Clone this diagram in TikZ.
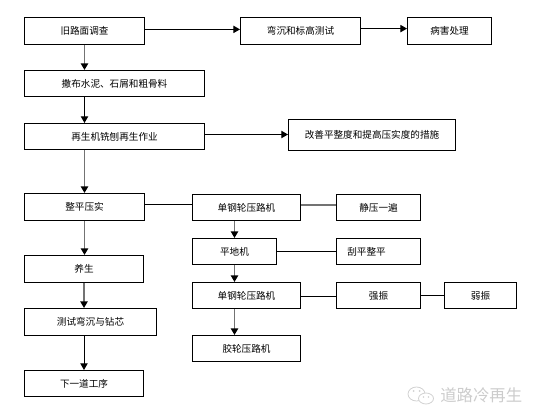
\documentclass[tikz,border=0pt]{standalone}
\usepackage{fontspec}
\setmainfont{Noto Sans CJK SC}
\usetikzlibrary{arrows.meta}
\tikzset{
  x=0.75pt,y=-0.75pt,
  bx/.style={draw=black,line width=0.75pt,inner sep=0pt,font=\fontsize{7.2pt}{8pt}\selectfont},
  arr/.style={draw=black,line width=0.75pt,-{Triangle[length=5pt,width=5.5pt]}},
  garr/.style={draw=black!55,line width=1.1pt,-{Triangle[length=5pt,width=5.5pt,color=black]}},
  ln/.style={draw=black,line width=0.75pt},
  gln/.style={draw=black!55,line width=1.5pt},
  wmk/.style={draw=black!18,line width=0.6pt},
}
\newcommand{\bxn}[6]{\node[bx,minimum width=(#4-#3)*0.75pt,minimum height=(#6-#5)*0.75pt] (#1) at ({(#3+#4)/2},{(#5+#6)/2}) {\raisebox{-2.2pt}{#2}};}
\begin{document}
\begin{tikzpicture}
\useasboundingbox (0,0) rectangle (539,420);
\bxn{A}{旧路面调查}{24.5}{144.5}{17.5}{44.5}
\bxn{B}{弯沉和标高测试}{240.5}{360.5}{17.5}{44.5}
\bxn{C}{病害处理}{407.5}{491.5}{17.5}{44.5}
\bxn{D}{撒布水泥、石屑和粗骨料}{24.5}{204.5}{70.5}{96.5}
\bxn{E}{再生机铣刨再生作业}{24.5}{204.5}{123.5}{149.5}
\bxn{F}{改善平整度和提高压实度的措施}{288.5}{455.5}{119.5}{150.5}
\bxn{G}{整平压实}{24.5}{144.5}{193.5}{220.5}
\bxn{H}{单钢轮压路机}{192.5}{300.5}{194.5}{220.5}
\bxn{I}{静压一遍}{336.5}{420.5}{194.5}{220.5}
\bxn{J}{平地机}{192.5}{276.5}{238.5}{264.5}
\bxn{K}{刮平整平\hspace{18pt}}{336.5}{420.5}{238.5}{264.5}
\bxn{L}{单钢轮压路机}{192.5}{300.5}{282.5}{308.5}
\bxn{M}{强振}{336.5}{420.5}{282.5}{308.5}
\bxn{N}{弱振}{444.5}{516.5}{282.5}{308.5}
\bxn{O}{胶轮压路机}{192.5}{300.5}{335.5}{361.5}
\bxn{P}{养生}{24.5}{143.5}{255.5}{282.5}
\bxn{Q}{测试弯沉与钻芯}{24.5}{156.5}{308.5}{335.5}
\bxn{R}{下一道工序}{24.5}{143.5}{370.5}{396.5}
% vertical left column
\draw[garr] (A.south) -- (A.south |- D.north);
\draw[arr] (A.south |- D.south) -- (A.south |- E.north);
\draw[garr] (A.south |- E.south) -- (A.south |- G.north);
\draw[garr] (G.south) -- (G.south |- P.north);
\draw[garr] (P.south) -- (P.south |- Q.north);
\draw[arr] (P.south |- Q.south) -- (P.south |- R.north);
% vertical right column
\draw[garr] (J.north |- H.south) -- (J.north);
\draw[garr] (J.south) -- (J.south |- L.north);
\draw[garr] (J.south |- L.south) -- (J.south |- O.north);
% horizontal
\draw[arr] ([yshift=1.2pt]A.east) -- ([yshift=1.2pt]B.west);
\draw[arr] ([yshift=1.8pt]B.east) -- ([yshift=1.8pt]C.west);
\draw[arr] ([yshift=1.5pt]E.east) -- ([yshift=1.5pt]E.east -| F.west);
\draw[ln] ([yshift=2pt]G.east) -- ([yshift=2pt]G.east -| H.west);
\draw[gln] ([yshift=1.7pt]H.east) -- ([yshift=1.7pt]I.west);
\draw[ln] (J.east) -- (J.east -| K.west);
\draw[ln] ([yshift=-1pt]L.east) -- ([yshift=-1pt]M.west);
\draw[ln] (M.east) -- (N.west);
% watermark
\node[text=black!20,font=\fontsize{12.3pt}{14pt}\selectfont,anchor=west,inner sep=0pt] (wt) at (440,395) {道路冷再生};
\draw[wmk] (416.5,394) ellipse [x radius=8.5,y radius=7];
\fill[black!18] (413.5,391) circle (1) (419.5,391) circle (1);
\draw[wmk,fill=white] (426,398.5) ellipse [x radius=7.5,y radius=5.5];
\fill[black!18] (423.5,397) circle (0.8) (428.5,397) circle (0.8);
\end{tikzpicture}
\end{document}
